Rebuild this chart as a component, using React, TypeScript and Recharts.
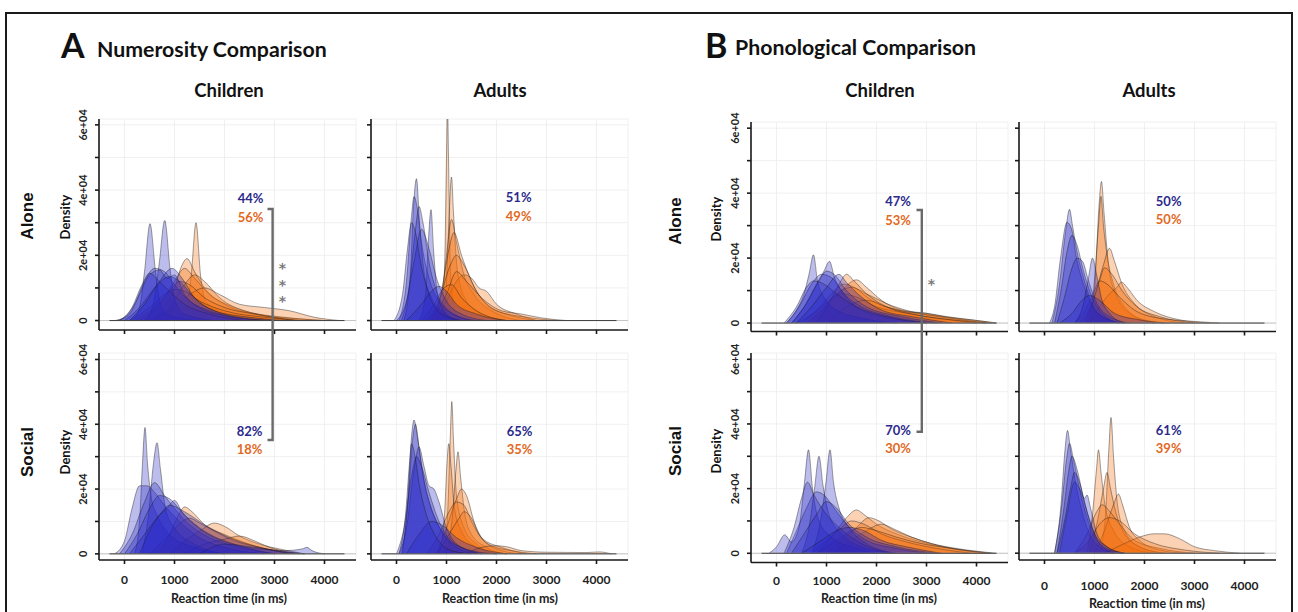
import React from 'react';
import { AreaChart, Area, XAxis, YAxis, CartesianGrid, ReferenceLine } from 'recharts';

type Pt = [number, number];
type Curve = Pt[];

// ---------- data (x: reaction time in ms, y: density in units of 1e+03) ----------
const xTicks = [0, 1000, 2000, 3000, 4000];
const yTicks = [0, 10, 20, 30, 40, 50, 60];
const yTickLabels: Record<number, string> = { 0: '0', 20: '2e+04', 40: '4e+04', 60: '6e+04' };
const colLabels = ['Children', 'Adults'];
const rowLabels = ['Alone', 'Social'];
const panelTitles = ['Numerosity Comparison', 'Phonological Comparison'];
const panelLetters = ['A', 'B'];
// order: alone-children, alone-adults, social-children, social-adults
const numBluePct = [44, 51, 82, 65];
const numOrangePct = [56, 49, 18, 35];
const phonBluePct = [47, 50, 70, 61];
const phonOrangePct = [53, 50, 30, 39];
const signifLabels = ['***', '*'];

// Numerosity - Alone - Children
const numAloneChildBlue: Curve[] = [
  [[150, 0], [300, 4], [400, 15], [510, 29.7], [620, 15], [720, 5], [850, 2], [1200, 0.5], [1600, 0]],
  [[400, 0], [560, 4], [690, 17], [805, 30.7], [910, 16], [1010, 6], [1200, 2], [1800, 0]],
  [[-200, 0], [0, 1], [200, 5], [400, 12], [600, 16], [800, 15], [1000, 11], [1300, 6], [1700, 3], [2200, 1], [3000, 0]],
  [[-150, 0], [100, 2], [300, 8], [500, 14], [700, 15.5], [850, 13], [1000, 14], [1200, 8], [1500, 4], [2000, 1.5], [2800, 0]],
  [[0, 0], [300, 4], [600, 10], [900, 13.5], [1100, 12], [1400, 7], [1800, 3], [2500, 1], [3200, 0]],
  [[-100, 0], [150, 4], [350, 11], [500, 14.5], [700, 12], [900, 9], [1200, 5], [1700, 2], [2400, 0]],
  [[100, 0], [400, 5], [700, 12], [950, 16], [1150, 13], [1400, 7], [1800, 3], [2500, 0.5], [3000, 0]],
];
const numAloneChildOrange: Curve[] = [
  [[1100, 0], [1250, 4], [1340, 15], [1430, 30], [1520, 14], [1620, 6], [1900, 3], [2500, 1], [3000, 0]],
  [[500, 0], [800, 4], [1000, 10], [1150, 17], [1250, 19], [1400, 15], [1600, 10], [2000, 5], [2600, 2], [3500, 0.5], [4000, 0]],
  [[300, 0], [700, 5], [1000, 12], [1200, 16], [1400, 13], [1700, 8], [2200, 4], [2800, 1.5], [3600, 0]],
  [[600, 0], [900, 4], [1200, 11], [1400, 14], [1600, 12], [1900, 7], [2400, 3], [3200, 1], [4000, 0]],
  [[500, 0], [900, 3], [1300, 8], [1600, 10], [1900, 8], [2300, 5], [2800, 4], [3300, 3], [3800, 1], [4300, 0]],
  [[200, 0], [600, 4], [900, 9], [1100, 12], [1300, 11], [1600, 7], [2000, 4], [2600, 2], [3400, 0]],
  [[100, 0], [500, 4], [800, 8], [1000, 9.5], [1200, 9], [1500, 6], [2000, 3], [2800, 1], [3500, 0]],
];

// Numerosity - Alone - Adults
const numAloneAdultBlue: Curve[] = [
  [[150, 0], [280, 15], [340, 35], [400, 43.5], [460, 30], [550, 15], [700, 7], [900, 3], [1300, 0]],
  [[450, 0], [580, 8], [640, 25], [690, 34], [740, 22], [820, 8], [950, 3], [1200, 0]],
  [[50, 0], [200, 12], [300, 32], [350, 38], [420, 34], [500, 24], [650, 13], [850, 6], [1200, 1.5], [1600, 0]],
  [[100, 0], [250, 10], [380, 28], [450, 35], [530, 30], [650, 18], [800, 9], [1050, 3], [1500, 0]],
  [[0, 0], [200, 6], [350, 18], [500, 28], [650, 22], [800, 13], [1000, 6], [1300, 2], [1800, 0]],
  [[-50, 0], [120, 8], [220, 22], [300, 30], [380, 27], [480, 18], [650, 8], [900, 2], [1300, 0]],
  [[200, 0], [500, 5], [700, 9], [850, 10.5], [1000, 9], [1200, 5], [1600, 2], [2200, 0]],
];
const numAloneAdultOrange: Curve[] = [
  [[880, 0], [960, 15], [1000, 50], [1020, 66], [1040, 50], [1080, 15], [1150, 4], [1300, 0]],
  [[900, 0], [1000, 12], [1060, 35], [1100, 44], [1140, 33], [1220, 15], [1400, 6], [1700, 2], [2200, 0]],
  [[700, 0], [900, 8], [1000, 20], [1100, 31], [1200, 24], [1350, 14], [1550, 8], [1900, 3], [2500, 0]],
  [[650, 0], [900, 9], [1050, 22], [1150, 27], [1300, 20], [1500, 12], [1800, 5], [2300, 1.5], [2800, 0]],
  [[800, 0], [1000, 6], [1200, 12], [1350, 14], [1500, 13], [1650, 10], [1800, 9], [2000, 5], [2400, 2], [2800, 0]],
  [[600, 0], [850, 6], [1050, 16], [1200, 20], [1350, 17], [1600, 9], [2000, 3], [2600, 1], [3200, 0]],
  [[700, 0], [1000, 8], [1200, 15], [1400, 12], [1700, 7], [2100, 3], [2500, 2], [2900, 0.8], [3400, 0]],
  [[500, 0], [750, 5], [950, 10], [1100, 11], [1300, 7], [1600, 3], [2200, 0]],
];

// Numerosity - Social - Children
const numSocialChildBlue: Curve[] = [
  [[200, 0], [300, 10], [360, 28], [410, 39], [460, 28], [540, 17], [650, 12], [900, 6], [1400, 2], [2000, 0]],
  [[350, 0], [480, 12], [580, 28], [650, 34.3], [720, 26], [820, 14], [1000, 8], [1400, 3], [2000, 0]],
  [[-200, 0], [0, 4], [150, 14], [300, 21], [450, 21], [600, 19], [800, 15], [1100, 10], [1500, 5], [2000, 2], [2800, 0]],
  [[-100, 0], [150, 6], [400, 16], [600, 22], [800, 18], [1000, 14], [1300, 9], [1700, 5], [2300, 2], [3000, 0]],
  [[0, 0], [250, 6], [500, 14], [700, 18], [900, 17], [1200, 12], [1600, 7], [2200, 3], [3000, 1], [3600, 0]],
  [[300, 0], [500, 7], [700, 12], [850, 14], [1000, 16.5], [1150, 13], [1400, 9], [1800, 5], [2400, 2], [3000, 0]],
  [[1500, 0], [2000, 3], [2600, 2], [3200, 1], [3550, 1.5], [3650, 2], [3750, 1], [4000, 0]],
  [[100, 0], [400, 6], [700, 12], [900, 15], [1200, 13], [1600, 9], [2100, 5], [2700, 2], [3400, 0]],
];
const numSocialChildOrange: Curve[] = [
  [[700, 0], [900, 6], [1100, 12.5], [1200, 14.5], [1350, 13], [1600, 9], [2000, 6], [2500, 3], [3000, 1], [3500, 0]],
  [[900, 0], [1200, 4], [1500, 7], [1800, 9.5], [2000, 8.5], [2300, 5.5], [2700, 3], [3100, 1.5], [3600, 0]],
  [[500, 0], [900, 6], [1150, 10], [1300, 11], [1500, 9.5], [1800, 7], [2200, 4], [2700, 2], [3300, 0]],
  [[1200, 0], [1600, 3], [2000, 4.5], [2300, 5.5], [2600, 4], [2900, 2], [3300, 0.5], [3600, 0]],
];

// Numerosity - Social - Adults
const numSocialAdultBlue: Curve[] = [
  [[100, 0], [220, 15], [300, 36], [350, 41.3], [420, 36], [520, 25], [650, 16], [800, 10], [1000, 5], [1300, 2], [1700, 0]],
  [[120, 0], [240, 18], [320, 35], [380, 40], [450, 33], [560, 22], [700, 14], [900, 7], [1200, 2], [1600, 0]],
  [[50, 0], [200, 8], [350, 26], [450, 33], [550, 27], [650, 21], [750, 20], [850, 16], [1000, 8], [1300, 2], [1700, 0]],
  [[0, 0], [150, 8], [300, 24], [400, 30], [500, 27], [650, 19], [850, 10], [1100, 4], [1500, 1], [2000, 0]],
  [[200, 0], [450, 6], [700, 10], [900, 9], [1200, 5], [1600, 2], [2200, 0]],
  [[50, 0], [180, 12], [260, 28], [300, 34], [360, 31], [460, 21], [600, 12], [800, 5], [1100, 1], [1500, 0]],
];
const numSocialAdultOrange: Curve[] = [
  [[950, 0], [1030, 15], [1080, 38], [1106, 47], [1140, 35], [1200, 18], [1350, 8], [1600, 3], [2000, 0]],
  [[850, 0], [960, 12], [1010, 28], [1045, 34], [1090, 27], [1160, 14], [1300, 7], [1600, 2], [2000, 0]],
  [[1000, 0], [1120, 12], [1190, 26], [1230, 31.5], [1280, 24], [1360, 13], [1500, 6], [1800, 2], [2200, 0]],
  [[800, 0], [1000, 8], [1200, 17], [1300, 20], [1400, 18], [1550, 10], [1750, 4], [2100, 1], [2500, 0]],
  [[600, 0], [850, 6], [1050, 13], [1200, 16], [1350, 15], [1500, 10], [1700, 5], [2100, 2], [2600, 0]],
  [[800, 0], [1050, 6], [1250, 11], [1350, 13], [1500, 11], [1650, 6], [1900, 2.5], [2300, 1], [2800, 0]],
  [[1400, 0], [1700, 2], [2000, 2.5], [2200, 2.2], [2500, 1], [3000, 0.5], [3800, 0.4], [4050, 0.6], [4300, 0]],
];

// Phonological - Alone - Children
const phonAloneChildBlue: Curve[] = [
  [[200, 0], [400, 4], [550, 9], [650, 15], [740, 21], [820, 13], [950, 8], [1200, 4], [1700, 1.5], [2400, 0]],
  [[300, 0], [550, 5], [800, 12], [950, 16], [1060, 19], [1160, 14], [1350, 9], [1700, 4], [2300, 1.5], [3000, 0]],
  [[200, 0], [450, 5], [700, 12], [900, 15], [1100, 14], [1350, 9], [1700, 5], [2300, 2], [3200, 0]],
  [[300, 0], [600, 6], [850, 13], [1000, 16], [1150, 15], [1400, 10], [1800, 5], [2500, 2], [3300, 0]],
  [[150, 0], [400, 5], [600, 11], [750, 13], [950, 12], [1200, 9], [1600, 5], [2200, 2], [3000, 0]],
  [[400, 0], [700, 5], [1000, 11], [1250, 15], [1400, 12.5], [1700, 8], [2100, 4], [2700, 2], [3500, 0]],
];
const phonAloneChildOrange: Curve[] = [
  [[700, 0], [1000, 5], [1300, 10], [1600, 13.3], [1800, 11], [2100, 7], [2500, 4], [3000, 3], [3500, 1.5], [4200, 0]],
  [[500, 0], [800, 4], [1100, 9], [1350, 12], [1550, 11], [1900, 7], [2400, 4], [3000, 2.5], [3700, 1], [4300, 0]],
  [[600, 0], [900, 4], [1200, 9], [1500, 11], [1800, 9], [2200, 6], [2700, 3.5], [3300, 2], [4000, 0.8], [4400, 0]],
  [[400, 0], [750, 3], [1050, 7], [1300, 9], [1600, 8], [2000, 5], [2600, 3], [3200, 1.5], [4000, 0]],
  [[1000, 0], [1400, 5], [1800, 7], [2200, 5], [2600, 3.5], [3000, 3], [3400, 2], [3900, 1], [4400, 0]],
  [[800, 0], [1050, 6], [1250, 12], [1400, 15], [1550, 13], [1800, 9], [2200, 5], [2800, 2.5], [3500, 1], [4200, 0]],
];

// Phonological - Alone - Adults
const phonAloneAdultBlue: Curve[] = [
  [[150, 0], [300, 12], [420, 28], [500, 35], [560, 30], [650, 22], [780, 14], [950, 6], [1200, 1.5], [1500, 0]],
  [[100, 0], [200, 5], [320, 20], [450, 31], [540, 29], [640, 20], [800, 11], [1000, 4], [1300, 1], [1600, 0]],
  [[200, 0], [330, 10], [450, 22], [550, 27], [650, 24], [780, 16], [950, 8], [1150, 3], [1500, 0]],
  [[250, 0], [400, 8], [550, 17], [650, 20], [760, 19], [880, 13], [1050, 6], [1300, 2], [1700, 0]],
  [[600, 0], [780, 6], [880, 14], [960, 20], [1040, 15], [1150, 7], [1300, 3], [1600, 0]],
  [[300, 0], [550, 3], [750, 7], [900, 8.5], [1100, 7], [1400, 3], [1900, 1], [2400, 0]],
];
const phonAloneAdultOrange: Curve[] = [
  [[900, 0], [1010, 12], [1090, 36], [1140, 43.6], [1190, 34], [1280, 18], [1420, 9], [1700, 3], [2200, 0]],
  [[850, 0], [980, 10], [1080, 30], [1130, 39], [1180, 30], [1260, 20], [1380, 12], [1600, 5], [2000, 1], [2500, 0]],
  [[800, 0], [1000, 8], [1180, 18], [1300, 23], [1400, 19], [1550, 12], [1800, 6], [2200, 2], [2800, 0]],
  [[900, 0], [1100, 5], [1300, 9], [1450, 11], [1540, 12.6], [1650, 11], [1850, 7], [2200, 3.5], [2700, 1], [3300, 0]],
  [[700, 0], [950, 6], [1100, 13], [1200, 17], [1350, 15], [1550, 10], [1850, 5], [2300, 2], [3000, 0]],
  [[600, 0], [850, 5], [1000, 10], [1100, 13], [1250, 12], [1500, 8], [1800, 4], [2300, 1.5], [3000, 0.5], [3500, 0]],
];

// Phonological - Social - Children
const phonSocialChildBlue: Curve[] = [
  [[-150, 0], [0, 2], [165, 5.7], [300, 3.5], [450, 8], [560, 22], [640, 32], [720, 20], [850, 10], [1100, 5], [1500, 2], [2000, 0]],
  [[500, 0], [650, 8], [760, 20], [850, 30], [930, 21], [1050, 12], [1300, 6], [1700, 2], [2300, 0]],
  [[700, 0], [880, 10], [990, 22], [1070, 32], [1140, 22], [1250, 14], [1450, 8], [1800, 3], [2400, 0]],
  [[200, 0], [400, 7], [600, 14], [800, 19], [950, 18], [1150, 14], [1400, 9], [1800, 4], [2400, 1.5], [3000, 0]],
  [[150, 0], [350, 8], [500, 17], [620, 22], [750, 18], [950, 13], [1250, 8], [1700, 3], [2300, 0]],
  [[300, 0], [550, 6], [800, 12], [1000, 16], [1200, 14], [1450, 9], [1800, 5], [2400, 2], [3200, 0]],
  [[500, 0], [900, 4], [1200, 7], [1450, 8], [1750, 7], [2100, 4], [2600, 2], [3300, 0]],
];
const phonSocialChildOrange: Curve[] = [
  [[800, 0], [1100, 5], [1400, 11], [1600, 13.4], [1750, 12], [2000, 9], [2400, 6], [2900, 3.5], [3500, 1.5], [4200, 0]],
  [[1000, 0], [1300, 4], [1600, 8], [1850, 11], [2050, 10], [2300, 7.5], [2700, 5], [3100, 3], [3600, 1.2], [4300, 0]],
  [[1100, 0], [1500, 4], [1800, 7], [2100, 9], [2350, 7.5], [2700, 5], [3100, 3], [3600, 1.5], [4400, 0]],
  [[700, 0], [1000, 4], [1300, 8], [1500, 10], [1750, 9], [2100, 6], [2600, 3.5], [3200, 1.5], [3900, 0]],
  [[800, 0], [1200, 4], [1500, 7], [1700, 8], [2000, 7], [2400, 5], [2900, 3], [3500, 1.5], [4300, 0]],
];

// Phonological - Social - Adults
const phonSocialAdultBlue: Curve[] = [
  [[200, 0], [330, 15], [410, 32], [460, 38], [520, 32], [620, 22], [750, 13], [900, 6], [1100, 2], [1400, 0]],
  [[200, 0], [340, 14], [440, 29], [500, 34], [580, 29], [700, 20], [850, 11], [1000, 5], [1300, 1], [1600, 0]],
  [[250, 0], [380, 13], [480, 25], [550, 30], [650, 26], [780, 17], [930, 9], [1100, 3], [1400, 0]],
  [[300, 0], [450, 12], [600, 22], [700, 20], [800, 17], [850, 18], [920, 14], [1050, 6], [1250, 2], [1600, 0]],
  [[250, 0], [400, 10], [520, 20], [600, 25], [700, 22], [830, 14], [1000, 6], [1250, 2], [1600, 0]],
];
const phonSocialAdultOrange: Curve[] = [
  [[1100, 0], [1220, 12], [1290, 33], [1330, 42], [1380, 30], [1460, 15], [1600, 7], [1900, 2], [2400, 0]],
  [[850, 0], [960, 12], [1040, 26], [1080, 32], [1130, 25], [1220, 14], [1380, 7], [1700, 2], [2200, 0]],
  [[900, 0], [1060, 10], [1180, 20], [1250, 25], [1320, 20], [1420, 13], [1600, 6], [1900, 2], [2400, 0]],
  [[1000, 0], [1200, 7], [1380, 15], [1480, 18.3], [1560, 15], [1700, 8], [1900, 4], [2300, 1], [2800, 0]],
  [[600, 0], [850, 6], [1050, 13], [1150, 15], [1300, 13], [1500, 9], [1800, 4], [2300, 1.5], [3000, 0]],
  [[1200, 0], [1600, 3], [1900, 5], [2200, 6], [2400, 6], [2700, 4.5], [3000, 2], [3400, 0.8], [3900, 0]],
  [[600, 0], [900, 4], [1100, 9], [1300, 11], [1500, 10], [1800, 6], [2200, 3], [2800, 1], [3500, 0]],
];

// ---------- styling ----------
const FONT = "Lato, 'Open Sans', sans-serif";
const BLUE_FILL = '#2424c4';
const ORANGE_FILL = '#f26a08';
const BLUE_TEXT = '#2b2a8c';
const ORANGE_TEXT = '#e2691f';
const AXIS = '#1a1a1a';
const Y_AXIS_W = 50;
const M_TOP = 20;
const X_AXIS_H = 40;
const PLOT_W = 257;
const X_DOMAIN: [number, number] = [-510, 4630];

const toRows = (c: Curve) => c.map(([x, y]) => ({ x, y }));

const XTick = (props: any) => {
  const { x, y, payload, dy } = props;
  return (
    <text x={x} y={y + dy} textAnchor="middle" fontSize={12} fontWeight={700} fontFamily={FONT} fill="#222">
      {payload.value}
    </text>
  );
};

const YTick = (props: any) => {
  const { x, y, payload } = props;
  const label = yTickLabels[payload.value];
  if (label === undefined) return <g />;
  const cx = x - 6;
  return (
    <text x={cx} y={y} transform={`rotate(-90 ${cx} ${y})`} textAnchor="middle" fontSize={11} fontWeight={700} fontFamily={FONT} fill="#222">
      {label}
    </text>
  );
};

interface PanelProps {
  left: number;
  top: number;
  height: number;
  yMin: number;
  yMax: number;
  blue: Curve[];
  orange: Curve[];
  yLabels: boolean;
  xLabels: boolean;
  xLabelDy: number;
}

function Panel(p: PanelProps) {
  const w = Y_AXIS_W + PLOT_W + 10;
  const h = M_TOP + p.height + X_AXIS_H;
  const areaStyle = {
    type: 'monotone' as const,
    dataKey: 'y',
    baseValue: 0,
    fillOpacity: 0.3,
    stroke: '#1a1a1a',
    strokeOpacity: 0.7,
    strokeWidth: 0.6,
    dot: false,
    activeDot: false,
    isAnimationActive: false,
  };
  return (
    <div style={{ position: 'absolute', left: p.left - Y_AXIS_W, top: p.top - M_TOP, width: w, height: h }}>
      <AreaChart width={w} height={h} margin={{ top: M_TOP, right: 10, bottom: 0, left: 0 }}>
        <CartesianGrid stroke="#ececec" strokeWidth={0.8} />
        <XAxis
          type="number"
          dataKey="x"
          domain={X_DOMAIN}
          allowDataOverflow
          ticks={xTicks}
          interval={0}
          height={X_AXIS_H}
          tickSize={4}
          axisLine={{ stroke: AXIS, strokeWidth: 1.6 }}
          tickLine={{ stroke: AXIS, strokeWidth: 1.6 }}
          tick={(tp: any) => (p.xLabels ? <XTick {...tp} dy={p.xLabelDy} /> : <g />)}
        />
        <YAxis
          type="number"
          domain={[p.yMin, p.yMax]}
          allowDataOverflow
          ticks={yTicks}
          interval={0}
          width={Y_AXIS_W}
          tickSize={4}
          axisLine={{ stroke: AXIS, strokeWidth: 1.6 }}
          tickLine={{ stroke: AXIS, strokeWidth: 1.6 }}
          tick={(tp: any) => (p.yLabels ? <YTick {...tp} /> : <g />)}
        />
        <ReferenceLine y={0} stroke="#c4c4c4" strokeWidth={1} />
        {p.orange.map((c, i) => (
          <Area key={`o${i}`} data={toRows(c)} fill={ORANGE_FILL} {...areaStyle} />
        ))}
        {p.blue.map((c, i) => (
          <Area key={`b${i}`} data={toRows(c)} fill={BLUE_FILL} {...areaStyle} />
        ))}
        <ReferenceLine segment={[{ x: -300, y: 0 }, { x: 4400, y: 0 }]} stroke="#333" strokeWidth={0.9} />
      </AreaChart>
    </div>
  );
}

const rot = (x: number, y: number) => `rotate(-90 ${x} ${y})`;

export default function App() {
  const panels: PanelProps[] = [
    // Numerosity
    { left: 99, top: 119, height: 211, yMin: -2.9, yMax: 61.8, blue: numAloneChildBlue, orange: numAloneChildOrange, yLabels: true, xLabels: false, xLabelDy: 18 },
    { left: 371, top: 119, height: 211, yMin: -2.9, yMax: 61.8, blue: numAloneAdultBlue, orange: numAloneAdultOrange, yLabels: false, xLabels: false, xLabelDy: 18 },
    { left: 99, top: 353, height: 207, yMin: -1.9, yMax: 62, blue: numSocialChildBlue, orange: numSocialChildOrange, yLabels: true, xLabels: true, xLabelDy: 18 },
    { left: 371, top: 353, height: 207, yMin: -1.9, yMax: 62, blue: numSocialAdultBlue, orange: numSocialAdultOrange, yLabels: false, xLabels: true, xLabelDy: 18 },
    // Phonological
    { left: 750.5, top: 121.5, height: 209.5, yMin: -2.6, yMax: 61.9, blue: phonAloneChildBlue, orange: phonAloneChildOrange, yLabels: true, xLabels: false, xLabelDy: 18 },
    { left: 1018.5, top: 121.5, height: 209.5, yMin: -2.6, yMax: 61.9, blue: phonAloneAdultBlue, orange: phonAloneAdultOrange, yLabels: false, xLabels: false, xLabelDy: 18 },
    { left: 750.5, top: 353, height: 209.5, yMin: -2.85, yMax: 61.95, blue: phonSocialChildBlue, orange: phonSocialChildOrange, yLabels: true, xLabels: true, xLabelDy: 16 },
    { left: 1018.5, top: 353, height: 207, yMin: -2.1, yMax: 61.95, blue: phonSocialAdultBlue, orange: phonSocialAdultOrange, yLabels: false, xLabels: true, xLabelDy: 24 },
  ];

  const pctPos = [
    [250.5, 198, 217], [518.7, 197, 216], [249.5, 431, 449], [519.5, 431, 449],
    [898, 201, 220], [1168.7, 201, 219], [898, 430, 448], [1168.7, 430, 448],
  ];
  const bluePct = [...numBluePct, ...phonBluePct];
  const orangePct = [...numOrangePct, ...phonOrangePct];

  const titleFont = { fontFamily: FONT, fontWeight: 700 } as const;
  const rowFont = { fontFamily: "'Liberation Sans', Arial, sans-serif", fontWeight: 700 } as const;
  const starFont = { fontFamily: "'DejaVu Sans', sans-serif", fontWeight: 700 } as const;

  return (
    <div style={{ position: 'absolute', left: 0, top: 0, width: 1298, height: 612, background: '#fff', overflow: 'hidden' }}>
      {panels.map((p, i) => (
        <Panel key={i} {...p} />
      ))}
      <svg width={1298} height={612} style={{ position: 'absolute', left: 0, top: 0, pointerEvents: 'none' }}>
        <rect x={6} y={13} width={1286} height={620} fill="none" stroke="#1a1a1a" strokeWidth={2} />
        {/* panel letters and titles */}
        <text x={61} y={58} fontSize={34} {...titleFont} fill="#111">{panelLetters[0]}</text>
        <text x={97} y={57} fontSize={21.3} {...titleFont} fill="#111">{panelTitles[0]}</text>
        <text x={705} y={58} fontSize={34} {...titleFont} fill="#111">{panelLetters[1]}</text>
        <text x={735} y={55} fontSize={21.3} {...titleFont} fill="#111">{panelTitles[1]}</text>
        {/* column labels */}
        <text x={229} y={97} fontSize={18.5} {...titleFont} textAnchor="middle" fill="#111">{colLabels[0]}</text>
        <text x={500} y={97} fontSize={18.5} {...titleFont} textAnchor="middle" fill="#111">{colLabels[1]}</text>
        <text x={880} y={97} fontSize={18.5} {...titleFont} textAnchor="middle" fill="#111">{colLabels[0]}</text>
        <text x={1149} y={97} fontSize={18.5} {...titleFont} textAnchor="middle" fill="#111">{colLabels[1]}</text>
        {/* row labels */}
        {[[33, 216, 0], [33, 452, 1], [681, 221, 0], [681, 451, 1]].map(([x, y, r], i) => (
          <text key={`r${i}`} x={x} y={y} transform={rot(x, y)} fontSize={17} {...rowFont} textAnchor="middle" fill="#111">
            {rowLabels[r]}
          </text>
        ))}
        {/* Density labels */}
        {[[69.5, 217], [69.5, 452], [720.5, 219], [720.5, 451]].map(([x, y], i) => (
          <text key={`d${i}`} x={x} y={y} transform={rot(x, y)} fontSize={13} fontFamily={FONT} fontWeight={700} textAnchor="middle" fill="#111">
            Density
          </text>
        ))}
        {/* x-axis titles */}
        {[[229, 602.5], [500, 602.5], [879, 602.5], [1147, 607.5]].map(([x, y], i) => (
          <text key={`x${i}`} x={x} y={y} fontSize={12.5} fontFamily={FONT} fontWeight={700} textAnchor="middle" fill="#222">
            Reaction time (in ms)
          </text>
        ))}
        {/* percentages */}
        {pctPos.map(([x, yb, yo], i) => (
          <g key={`p${i}`}>
            <text x={x} y={yb + 4.5} fontSize={13} fontFamily={FONT} fontWeight={700} textAnchor="middle" fill={BLUE_TEXT}>
              {bluePct[i]}%
            </text>
            <text x={x} y={yo + 4.5} fontSize={13} fontFamily={FONT} fontWeight={700} textAnchor="middle" fill={ORANGE_TEXT}>
              {orangePct[i]}%
            </text>
          </g>
        ))}
        {/* significance brackets */}
        <path d="M267.5 209 H272.6 V440 H267.5" fill="none" stroke="#6a6a6a" strokeWidth={2.4} />
        <text x={282.5} y={272.7} fontSize={14} {...starFont} textAnchor="middle" fill="#7a7a7a">
          {signifLabels[0].split('').map((s, i) => (
            <tspan key={i} x={282.5} dy={i === 0 ? 0 : 16.8}>{s}</tspan>
          ))}
        </text>
        <path d="M916.5 210 H921.8 V431.7 H916.5" fill="none" stroke="#6a6a6a" strokeWidth={2.4} />
        <text x={931.3} y={288.7} fontSize={14} {...starFont} textAnchor="middle" fill="#7a7a7a">
          {signifLabels[1]}
        </text>
      </svg>
    </div>
  );
}
